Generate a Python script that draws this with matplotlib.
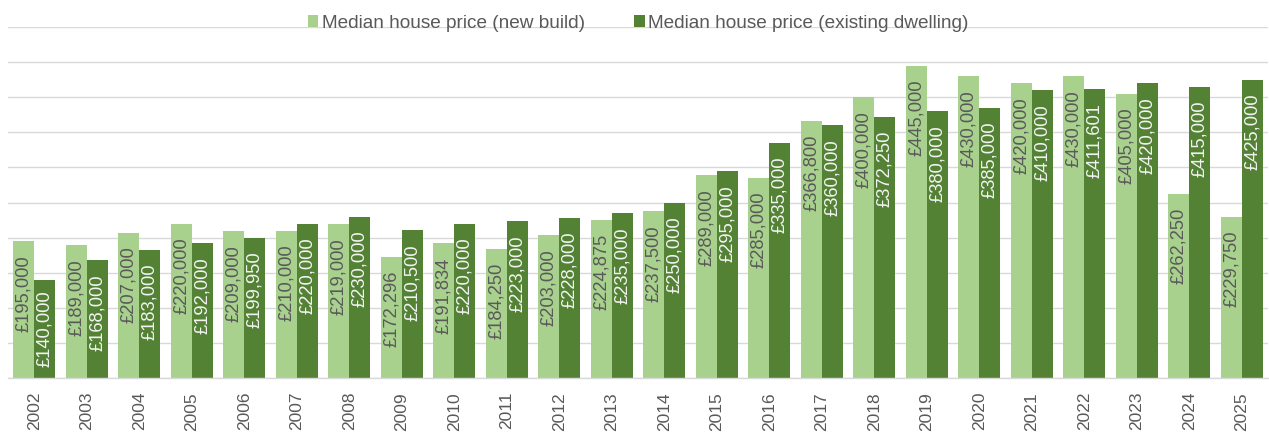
import matplotlib
matplotlib.use("Agg")
import matplotlib.pyplot as plt
import numpy as np

years = [str(y) for y in range(2002, 2026)]
new_build = [195000, 189000, 207000, 220000, 209000, 210000, 219000, 172296,
             191834, 184250, 203000, 224875, 237500, 289000, 285000, 366800,
             400000, 445000, 430000, 420000, 430000, 405000, 262250, 229750]
existing = [140000, 168000, 183000, 192000, 199950, 220000, 230000, 210500,
            220000, 223000, 228000, 235000, 250000, 295000, 335000, 360000,
            372250, 380000, 385000, 410000, 411601, 420000, 415000, 425000]
series_names = ["Median house price (new build)", "Median house price (existing dwelling)"]

plt.rcParams['font.family'] = ['Liberation Sans', 'DejaVu Sans']

DPI = 100
fig = plt.figure(figsize=(12.69, 4.32), dpi=DPI)
ax = fig.add_axes([8/1269, 1 - 378/432, 1260/1269, 351/432])

LIGHT = '#a9d18e'
DARK = '#548235'
TXT = '#595959'

x = np.arange(len(years))
w = 0.4
ax.bar(x - w/2, new_build, w, color=LIGHT, label=series_names[0], zorder=2)
ax.bar(x + w/2, existing, w, color=DARK, label=series_names[1], zorder=2)

ax.set_xlim(-0.5, len(years) - 0.5)
ax.set_ylim(0, 500000)
ax.set_yticks(np.arange(0, 500001, 50000))
ax.yaxis.grid(True, color='#d9d9d9', lw=1.0, zorder=0)
ax.set_axisbelow(True)
ax.tick_params(axis='y', left=False, labelleft=False)
ax.set_xticks(x)
ax.set_xticklabels(years, rotation=90, color=TXT, fontsize=12.5)
ax.tick_params(axis='x', length=0, pad=10)
for s in ['left', 'right', 'top']:
    ax.spines[s].set_visible(False)
ax.spines['bottom'].set_color('#d9d9d9')
ax.spines['bottom'].set_linewidth(1.0)

texts = []
for xs, vals, col in [(x - w/2, new_build, TXT), (x + w/2, existing, '#f2f2f2')]:
    for xi, v in zip(xs, vals):
        t = ax.annotate("£{:,}".format(v), xy=(xi, v), xytext=(0, -10.1),
                        textcoords='offset points', rotation=90, ha='center',
                        va='top', color=col, fontsize=13.2, zorder=3)
        texts.append(t)

leg = ax.legend(loc='center', bbox_to_anchor=(0.5, 1 + 4/351), ncol=2,
                frameon=False, fontsize=13.7, handlelength=0.55, handleheight=0.55,
                handletextpad=0.18, columnspacing=2.6, labelcolor=TXT,
                borderaxespad=0)

fig.canvas.draw()
renderer = fig.canvas.get_renderer()
base_px = ax.transData.transform((0, 0))[1]
min_bottom = base_px + 11 * DPI / 100
for t in texts:
    bb = t.get_window_extent(renderer)
    if bb.y0 < min_bottom:
        shift = (min_bottom - bb.y0) * 72 / DPI
        ox, oy = t.xyann
        t.xyann = (ox, oy + shift)

fig.savefig('out.png', dpi=DPI)
